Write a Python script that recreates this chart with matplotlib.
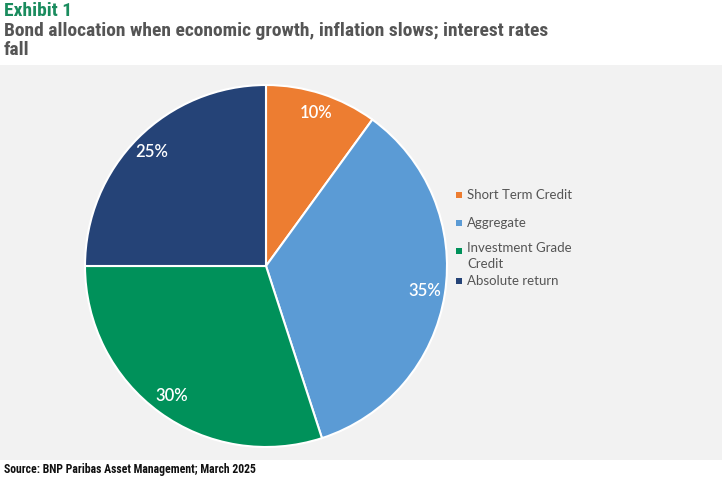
import matplotlib
matplotlib.use("Agg")
import matplotlib.pyplot as plt
from matplotlib import font_manager
from matplotlib.patches import Rectangle

# data
labels = ["Short Term Credit", "Aggregate", "Investment Grade\nCredit", "Absolute return"]
shares = [10, 35, 30, 25]
colours = ["#ED7D31", "#5B9BD5", "#00915A", "#254377"]

title_text = "Bond allocation when economic growth, inflation slows; interest rates\nfall"
source_text = "Source: BNP Paribas Asset Management; March 2025"

# pick a narrow face for the headings if one is around
fonts = font_manager.fontManager.ttflist
names = {f.name for f in fonts}
narrow = None
for cand in ["Liberation Sans Narrow", "Roboto Condensed", "Open Sans Condensed",
             "Noto Sans Condensed", "DejaVu Sans Condensed"]:
    if cand in names:
        narrow = dict(family=[cand, "DejaVu Sans"])
        break
if narrow is None:
    if any(f.name == "DejaVu Sans" and f.stretch == "condensed" for f in fonts):
        narrow = dict(family=["DejaVu Sans"], fontstretch="condensed")
    else:
        narrow = dict(family=["Roboto", "DejaVu Sans"])
body_font = ["Lato", "DejaVu Sans"]

W, H = 725, 478
fig = plt.figure(figsize=(W / 100, H / 100), dpi=100)
fig.patch.set_facecolor("white")

# grey panel behind the chart
fig.patches.append(Rectangle((0, 18 / H), 722 / W, (460 - 65) / H,
                             transform=fig.transFigure, facecolor="#F2F2F2",
                             edgecolor="none", zorder=-5))

# pie: centre (266, 266) px from top, radius 181 px
cx, cy, r = 266, 266, 181
ax = fig.add_axes([(cx - r) / W, (H - cy - r) / H, 2 * r / W, 2 * r / H], zorder=2)
ax.set_facecolor("none")
wedges, _, pcts = ax.pie(
    shares, colors=colours, startangle=90, counterclock=False,
    autopct="%d%%", pctdistance=0.89,
    wedgeprops=dict(edgecolor="white", linewidth=1.5),
    textprops=dict(color="white", fontsize=12, fontweight="semibold",
                   family=body_font),
)
ax.set_xlim(-1, 1)
ax.set_ylim(-1, 1)
ax.set_aspect("equal")
ax.axis("off")

# legend, drawn by hand to keep the source spacing
leg_y = [195, 223, 251, 281]
for lab, col, y in zip(labels, colours, leg_y):
    fig.patches.append(Rectangle((456 / W, (H - y - 3) / H), 6 / W, 6 / H,
                                 transform=fig.transFigure, facecolor=col,
                                 edgecolor="none", zorder=3))
    if "\n" in lab:
        fig.text(467 / W, (H - y + 9) / H, lab, fontsize=9.5, color="#555555",
                 family=body_font, va="top", linespacing=1.35)
    else:
        fig.text(467 / W, (H - y) / H, lab, fontsize=9.5, color="#555555",
                 family=body_font, va="center")

exhibit = fig.text(4 / W, (H - 11) / H, "Exhibit 1", fontsize=14, fontweight="bold",
                   color="#1A8C5E", va="center", **narrow)
title = fig.text(4 / W, (H - 22) / H, title_text, fontsize=14, fontweight="bold",
                 color="#555555", va="top", linespacing=1.1, **narrow)
source = fig.text(4 / W, (H - 469) / H, source_text, fontsize=8.5,
                  fontweight="bold", color="#111111", va="center", **narrow)

# shrink title / source so their widths match the reference
renderer = fig.canvas.get_renderer()
for t, target in [(title, 552), (source, 256)]:
    w = t.get_window_extent(renderer).width
    if w > target:
        t.set_fontsize(t.get_fontsize() * target / w)
exhibit.set_fontsize(title.get_fontsize())

fig.savefig("out.png", dpi=100, facecolor=fig.get_facecolor())
